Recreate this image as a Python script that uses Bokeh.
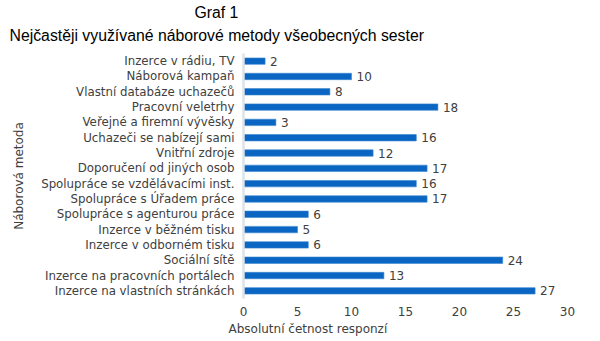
from bokeh.plotting import figure
from bokeh.models import ColumnDataSource, FactorRange, Range1d, FixedTicker, Title
from bokeh.core.properties import value
from bokeh.embed import file_html
from bokeh.resources import INLINE

methods = [
    "Inzerce v rádiu, TV",
    "Náborová kampaň",
    "Vlastní databáze uchazečů",
    "Pracovní veletrhy",
    "Veřejné a firemní vývěsky",
    "Uchazeči se nabízejí sami",
    "Vnitřní zdroje",
    "Doporučení od jiných osob",
    "Spolupráce se vzdělávacími inst.",
    "Spolupráce s Úřadem práce",
    "Spolupráce s agenturou práce",
    "Inzerce v běžném tisku",
    "Inzerce v odborném tisku",
    "Sociální sítě",
    "Inzerce na pracovních portálech",
    "Inzerce na vlastních stránkách",
]
counts = [2, 10, 8, 18, 3, 16, 12, 17, 16, 17, 6, 5, 6, 24, 13, 27]
x_ticks = [0, 5, 10, 15, 20, 25, 30]
title_lines = ["Graf 1", "Nejčastěji využívané náborové metody všeobecných sester"]
x_label = "Absolutní četnost responzí"

src = ColumnDataSource(dict(m=methods, c=counts, t=[str(v) for v in counts]))

p = figure(
    width=600, height=341,
    frame_width=324, frame_height=245,
    y_range=FactorRange(factors=list(reversed(methods))),
    x_range=Range1d(0, 30),
    output_backend="svg", toolbar_location=None,
    min_border_left=243, min_border_right=33, min_border_top=53, min_border_bottom=43,
)
p.outline_line_color = None
p.xgrid.visible = False
p.ygrid.visible = False

p.hbar(y="m", right="c", left=0, height=0.42, source=src,
       fill_color="#0a66c2", line_color="#3a86d0", line_width=0.6)
p.text(x="c", y="m", text="t", source=src, x_offset=5,
       text_baseline="middle", text_align="left",
       text_font=value("DejaVu Sans"), text_font_size="12px", text_color="#404040")

ax = p.xaxis[0]
ax.ticker = FixedTicker(ticks=x_ticks)
ax.axis_line_color = None
ax.major_tick_line_color = None
ax.minor_tick_line_color = None
ax.major_label_text_font = "DejaVu Sans"
ax.major_label_text_font_size = "12px"
ax.major_label_text_color = "#404040"
ax.major_label_standoff = 2

ay = p.yaxis[0]
ay.axis_line_color = "#dde3ea"
ay.axis_line_width = 2.5
ay.major_tick_line_color = None
ay.minor_tick_line_color = None
ay.major_label_text_font = "DejaVu Sans"
ay.major_label_text_font_size = "11.8px"
ay.major_label_text_color = "#404040"
ay.major_label_standoff = 3
ay.axis_label = "Náborová metoda"
ay.axis_label_text_font = "DejaVu Sans"
ay.axis_label_text_font_size = "12px"
ay.axis_label_text_font_style = "normal"
ay.axis_label_text_color = "#404040"
ay.axis_label_standoff = 12

p.add_layout(Title(text=x_label, align="left", offset=-15, standoff=2,
                   text_font="DejaVu Sans", text_font_size="12px",
                   text_font_style="normal", text_color="#404040"), "below")
p.add_layout(Title(text=title_lines[1], align="left", offset=-234, standoff=16,
                   vertical_align="top",
                   text_font="Liberation Sans", text_font_size="15.8px",
                   text_font_style="normal", text_color="#000000"), "above")
p.add_layout(Title(text=title_lines[0], align="left", offset=-49, standoff=-5,
                   vertical_align="bottom",
                   text_font="Liberation Sans", text_font_size="15.8px",
                   text_font_style="normal", text_color="#000000"), "above")

open("out.html", "w").write(file_html(p, INLINE))
